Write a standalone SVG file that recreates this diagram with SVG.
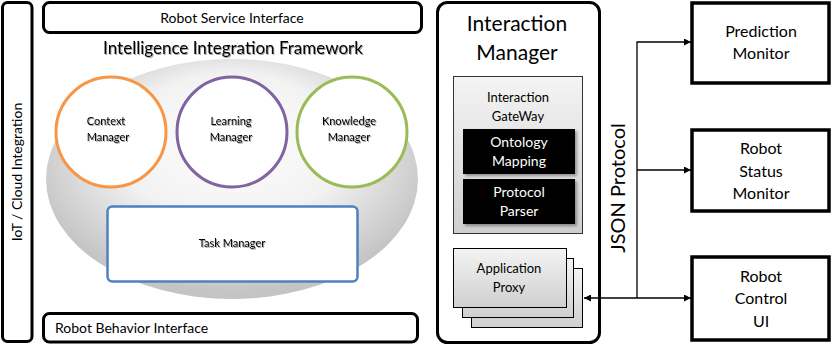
<svg xmlns="http://www.w3.org/2000/svg" width="832" height="347" viewBox="0 0 832 347">
  <defs>
    <radialGradient id="fwGrad" cx="0.5" cy="0.42" r="0.55" fx="0.5" fy="0.3">
      <stop offset="0" stop-color="#ffffff"/>
      <stop offset="0.55" stop-color="#f2f2f2"/>
      <stop offset="1" stop-color="#c4c4c4"/>
    </radialGradient>
    <linearGradient id="grayGrad" x1="0" y1="0" x2="0" y2="1">
      <stop offset="0" stop-color="#f4f4f4"/>
      <stop offset="1" stop-color="#cfcfcf"/>
    </linearGradient>
    <filter id="txtShadow" x="-10%" y="-30%" width="120%" height="160%">
      <feDropShadow dx="1" dy="1" stdDeviation="0.7" flood-color="#000" flood-opacity="0.35"/>
    </filter>
    <filter id="boxShadow" x="-10%" y="-10%" width="125%" height="125%">
      <feDropShadow dx="2" dy="2" stdDeviation="1.5" flood-color="#000" flood-opacity="0.35"/>
    </filter>
    <marker id="arrow" viewBox="0 0 10 10" refX="10" refY="5" markerWidth="9" markerHeight="7" markerUnits="userSpaceOnUse" orient="auto-start-reverse">
      <path d="M0,0 L10,5 L0,10 z" fill="#000"/>
    </marker>
  </defs>
  <style>
    text { font-family: Lato, "Open Sans", "Liberation Sans", sans-serif; fill: #000; }
    .frame { fill: #fff; stroke: #000; stroke-width: 3; }
    .sq { fill: #fff; stroke: #000; stroke-width: 3.5; }
    .mgr { fill: #fff; stroke-width: 3; }
    .small { font-size: 11px; text-anchor: middle; }
    .mid { text-anchor: middle; }
    .dark { fill: #000; }
    .white { fill: #fff; font-size: 14px; text-anchor: middle; }
    .conn { fill: none; stroke: #000; stroke-width: 1.3; }
  </style>

  <rect width="832" height="347" fill="#fff"/>

  <g id="iot-cloud">
    <rect class="frame" x="2.5" y="2.5" width="29.5" height="339" rx="5"/>
    <text transform="translate(22,172) rotate(-90)" font-size="14" text-anchor="middle">IoT / Cloud Integration</text>
  </g>

  <g id="robot-service-interface">
    <rect class="frame" x="43.5" y="2.5" width="378" height="30" rx="6"/>
    <text x="232" y="23" font-size="14" text-anchor="middle">Robot Service Interface</text>
  </g>

  <g id="intelligence-framework">
    <ellipse cx="232" cy="179" rx="186" ry="120" fill="url(#fwGrad)"/>
    <text x="233" y="54" font-size="17" text-anchor="middle" filter="url(#txtShadow)">Intelligence Integration Framework</text>
  </g>

  <g id="context-manager">
    <circle class="mgr" cx="111" cy="132" r="55" stroke="#F79646"/>
    <text class="small" filter="url(#txtShadow)"><tspan x="106" y="125">Context</tspan><tspan x="108" y="141">Manager</tspan></text>
  </g>

  <g id="learning-manager">
    <circle class="mgr" cx="232" cy="132" r="55" stroke="#8064A2"/>
    <text class="small" filter="url(#txtShadow)"><tspan x="231" y="125">Learning</tspan><tspan x="231" y="141">Manager</tspan></text>
  </g>

  <g id="knowledge-manager">
    <circle class="mgr" cx="352" cy="132" r="55" stroke="#9BBB59"/>
    <text class="small" filter="url(#txtShadow)"><tspan x="349" y="125">Knowledge</tspan><tspan x="349" y="141">Manager</tspan></text>
  </g>

  <g id="task-manager">
    <rect x="107.5" y="206.5" width="250" height="75" rx="5" fill="#fff" stroke="#4F81BD" stroke-width="2.5"/>
    <text x="232" y="247" class="small" filter="url(#txtShadow)">Task Manager</text>
  </g>

  <g id="robot-behavior-interface">
    <rect class="frame" x="43.5" y="313.5" width="374" height="28.5" rx="6"/>
    <text x="55" y="333" font-size="14">Robot  Behavior Interface</text>
  </g>

  <g id="interaction-manager">
    <rect class="frame" x="437.5" y="2.5" width="162" height="340" rx="10"/>
    <text font-size="21" class="mid"><tspan x="517" y="31">Interaction</tspan><tspan x="517" y="60">Manager</tspan></text>
  </g>

  <g id="interaction-gateway">
    <rect x="453.5" y="76.5" width="129" height="157" fill="url(#grayGrad)" stroke="#333" stroke-width="1"/>
    <text font-size="13" class="mid"><tspan x="518" y="102">Interaction</tspan><tspan x="518" y="121">GateWay</tspan></text>
  </g>

  <g id="ontology-mapping">
    <rect class="dark" x="463" y="129" width="112" height="45" filter="url(#boxShadow)"/>
    <text class="white"><tspan x="519" y="147">Ontology</tspan><tspan x="519" y="166">Mapping</tspan></text>
  </g>

  <g id="protocol-parser">
    <rect class="dark" x="463" y="179" width="112" height="45" filter="url(#boxShadow)"/>
    <text class="white"><tspan x="519" y="197">Protocol</tspan><tspan x="519" y="216">Parser</tspan></text>
  </g>

  <g id="application-proxy">
    <rect x="471.5" y="268.5" width="111" height="59" fill="url(#grayGrad)" stroke="#000" stroke-width="1"/>
    <rect x="462.5" y="258.5" width="111" height="59" fill="url(#grayGrad)" stroke="#000" stroke-width="1"/>
    <rect x="453.5" y="248.5" width="113" height="59" fill="url(#grayGrad)" stroke="#000" stroke-width="1"/>
    <text font-size="13" class="mid"><tspan x="509" y="273">Application</tspan><tspan x="509" y="292">Proxy</tspan></text>
  </g>

  <g id="prediction-monitor">
    <rect class="sq" x="692" y="3" width="137" height="80"/>
    <text font-size="16" class="mid"><tspan x="761" y="37">Prediction</tspan><tspan x="761" y="59">Monitor</tspan></text>
  </g>

  <g id="robot-status-monitor">
    <rect class="sq" x="692" y="130" width="137" height="81"/>
    <text font-size="16" class="mid"><tspan x="761" y="154">Robot</tspan><tspan x="761" y="177">Status</tspan><tspan x="761" y="199">Monitor</tspan></text>
  </g>

  <g id="robot-control-ui">
    <rect class="sq" x="692" y="257" width="137" height="83"/>
    <text font-size="16" class="mid"><tspan x="761" y="282">Robot</tspan><tspan x="761" y="304">Control</tspan><tspan x="761" y="327">UI</tspan></text>
  </g>

  <g id="connectors">
    <path class="conn" d="M637,298 V42 H691" marker-end="url(#arrow)"/>
    <path class="conn" d="M637,170 H691" marker-end="url(#arrow)"/>
    <path class="conn" d="M584,298 H691" marker-start="url(#arrow)" marker-end="url(#arrow)"/>
    <text transform="translate(625,188) rotate(-90)" font-size="20" text-anchor="middle">JSON Protocol</text>
  </g>
</svg>
